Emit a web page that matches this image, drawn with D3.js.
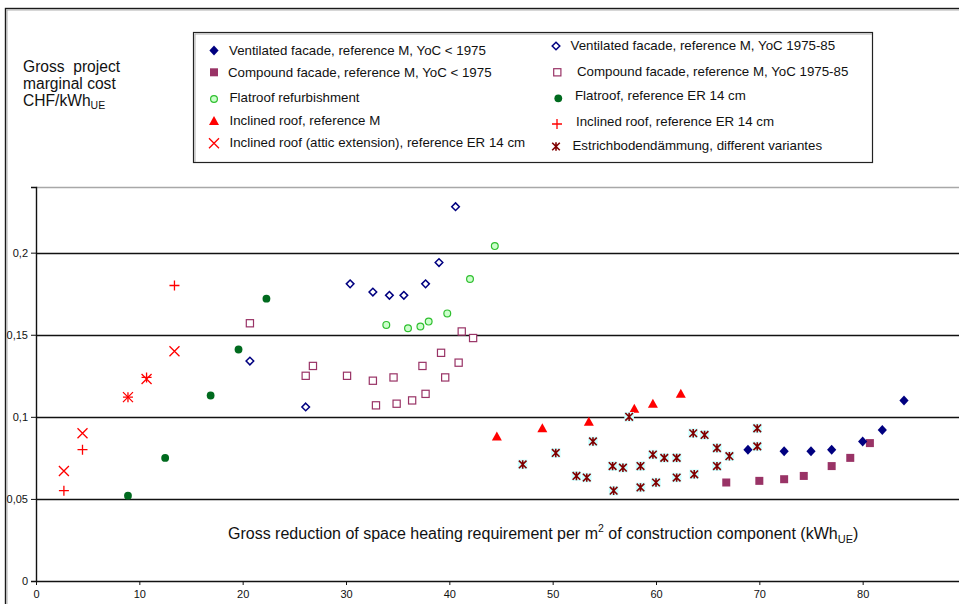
<!DOCTYPE html>
<html>
<head>
<meta charset="utf-8">
<script src="https://cdn.jsdelivr.net/npm/d3@7"></script>
<style>
  html, body { margin: 0; padding: 0; background: #fff; }
  svg { display: block; font-family: "Liberation Sans", Arial, sans-serif; }
  .pre { white-space: pre; }
</style>
</head>
<body>
<svg id="chart" width="959" height="604"></svg>
<script>
// ---- data: [gross reduction kWh_UE per m², marginal cost CHF/kWh_UE] ----
const ventFacadeOld = [[68.9,0.080],[72.4,0.079],[75.0,0.079],[77.0,0.080],[80.0,0.085],[81.9,0.092],[84.0,0.110]];
const compFacadeOld = [[66.8,0.060],[70.0,0.061],[72.4,0.062],[74.3,0.064],[77.0,0.070],[78.8,0.075],[80.7,0.084]];
const flatroofRefurb = [[33.9,0.156],[36.0,0.154],[37.2,0.155],[38.0,0.158],[39.8,0.163],[42.0,0.184],[44.4,0.204]];
const inclinedRoofM = [[44.6,0.088],[49.0,0.093],[53.5,0.097],[57.9,0.105],[59.7,0.108],[62.4,0.114]];
const inclinedAttic = [[2.7,0.067],[4.5,0.090],[8.9,0.112],[10.7,0.123],[13.4,0.140]];
const ventFacadeNew = [[20.7,0.134],[26.1,0.106],[30.4,0.181],[32.6,0.176],[34.2,0.174],[35.6,0.174],[37.7,0.181],[39.0,0.194],[40.6,0.228]];
const compFacadeNew = [[20.7,0.157],[26.1,0.125],[26.8,0.131],[30.1,0.125],[32.6,0.122],[32.9,0.107],[34.6,0.124],[34.9,0.108],[36.4,0.110],[37.4,0.131],[37.7,0.114],[39.2,0.139],[39.6,0.124],[40.9,0.133],[41.2,0.152],[42.3,0.148]];
const flatroofER = [[8.9,0.052],[12.5,0.075],[16.9,0.113],[19.6,0.141],[22.3,0.172]];
const inclinedER = [[2.7,0.055],[4.5,0.080],[8.9,0.112],[10.7,0.124],[13.4,0.180]];
const estrich = [[47.1,0.071],[50.3,0.078],[52.3,0.064],[53.3,0.063],[53.9,0.085],[55.8,0.070],[55.9,0.055],[56.8,0.069],[57.4,0.100],[58.5,0.070],[58.5,0.057],[59.7,0.077],[60.0,0.060],[60.8,0.075],[62.0,0.075],[62.0,0.063],[63.6,0.090],[63.7,0.065],[64.7,0.089],[65.9,0.081],[65.9,0.070],[67.1,0.076],[69.8,0.093],[69.8,0.082]];

const xTickValues = [0,10,20,30,40,50,60,70,80,90];
const yTickValues = [0,0.05,0.1,0.15,0.2];

const legendLabels = [
  "Ventilated facade, reference M, YoC < 1975",
  "Ventilated facade, reference M, YoC 1975-85",
  "Compound facade, reference M, YoC < 1975",
  "Compound facade, reference M, YoC 1975-85",
  "Flatroof refurbishment",
  "Flatroof, reference ER 14 cm",
  "Inclined roof, reference M",
  "Inclined roof, reference ER 14 cm",
  "Inclined roof (attic extension), reference ER 14 cm",
  "Estrichbodendämmung, different variantes"
];

// ---- marker painters ----
const NAVY = "#000080", PLUM = "#993366", RED = "#ff0000", DKGREEN = "#006a1e", LTGREEN = "#2fbf2f", MAROON = "#800000";

const markers = {
  diamondFilled: (g) => g.append("path").attr("d", "M0,-5L4.6,0L0,5L-4.6,0Z").attr("fill", NAVY),
  diamondOpen:   (g) => g.append("path").attr("d", "M0,-3.8L3.8,0L0,3.8L-3.8,0Z").attr("fill", "#fff").attr("stroke", NAVY).attr("stroke-width", 1.5),
  squareFilled:  (g) => g.append("rect").attr("x", -4).attr("y", -4).attr("width", 8).attr("height", 8).attr("fill", PLUM),
  squareOpen:    (g) => g.append("rect").attr("x", -3.6).attr("y", -3.6).attr("width", 7.2).attr("height", 7.2).attr("fill", "#fff").attr("stroke", PLUM).attr("stroke-width", 1.2),
  circleOpen:    (g) => g.append("circle").attr("r", 3.4).attr("fill", "#ccffcc").attr("stroke", LTGREEN).attr("stroke-width", 1.2),
  circleFilled:  (g) => g.append("circle").attr("r", 3.9).attr("fill", DKGREEN),
  triangle:      (g) => g.append("path").attr("d", "M0,-5L5,4L-5,4Z").attr("fill", RED),
  plus:          (g) => g.append("path").attr("d", "M-5,0H5M0,-5V5").attr("stroke", RED).attr("stroke-width", 1.3).attr("fill", "none"),
  cross:         (g) => g.append("path").attr("d", "M-5,-5L5,5M-5,5L5,-5").attr("stroke", RED).attr("stroke-width", 1.3).attr("fill", "none"),
  star:          (g, bg) => {
    if (bg) g.append("rect").attr("x", -4.8).attr("y", -4.8).attr("width", 9.6).attr("height", 9.6).attr("fill", "#ccffff");
    g.append("path").attr("d", "M-3.8,-3.8L3.8,3.8M-3.8,3.8L3.8,-3.8M0,-4.2V4.2").attr("stroke", MAROON).attr("stroke-width", 1.6).attr("fill", "none");
  }
};

const series = [
  { data: compFacadeNew, marker: "squareOpen" },
  { data: ventFacadeNew, marker: "diamondOpen" },
  { data: flatroofRefurb, marker: "circleOpen" },
  { data: flatroofER, marker: "circleFilled" },
  { data: inclinedRoofM, marker: "triangle" },
  { data: estrich, marker: "star", bg: true },
  { data: compFacadeOld, marker: "squareFilled" },
  { data: ventFacadeOld, marker: "diamondFilled" },
  { data: inclinedAttic, marker: "cross" },
  { data: inclinedER, marker: "plus" }
];

// ---- layout ----
const svg = d3.select("#chart");
const plot = { left: 36, top: 187, bottom: 581, right: 966 };

const x = d3.scaleLinear().domain([0, 90]).range([plot.left, plot.right]);
const y = d3.scaleLinear().domain([0, 0.24]).range([plot.bottom, plot.top]);

// outer chart frame
svg.append("rect").attr("x", 5.5).attr("y", 8.5).attr("width", 1000).attr("height", 700)
  .attr("fill", "none").attr("stroke", "#1a1a1a").attr("stroke-width", 1.4);
svg.append("path").attr("d", "M7,10H1000M7,10V700").attr("stroke", "#9a9a9a").attr("stroke-width", 0.8).attr("fill", "none");

// plot border (top) and gridlines
svg.append("line").attr("x1", plot.left).attr("x2", 959).attr("y1", plot.top + 0.5).attr("y2", plot.top + 0.5)
  .attr("stroke", "#a8a8a8").attr("stroke-width", 1.5);
svg.append("g").selectAll("line").data(yTickValues.filter(d => d > 0)).join("line")
  .attr("x1", plot.left).attr("x2", 959)
  .attr("y1", d => Math.round(y(d)) + 0.5).attr("y2", d => Math.round(y(d)) + 0.5)
  .attr("stroke", "#111").attr("stroke-width", 1.4);

// axes
const yAxis = d3.axisLeft(y).tickValues(yTickValues).tickSize(5).tickPadding(3)
  .tickFormat(d => d === 0 ? "0" : String(+d.toFixed(2)).replace(".", ","));
const gy = svg.append("g").attr("transform", `translate(${plot.left},0)`).call(yAxis);
gy.select(".domain").attr("stroke", "#111").attr("stroke-width", 1.4);
gy.selectAll(".tick line").attr("stroke", "#111");
gy.selectAll(".tick text").attr("font-size", 11).attr("fill", "#111").attr("font-family", "Liberation Sans, Arial, sans-serif");

const xAxis = d3.axisBottom(x).tickValues(xTickValues).tickSize(4).tickSizeOuter(0).tickPadding(5).tickFormat(d3.format("d"));
const gx = svg.append("g").attr("transform", `translate(0,${plot.bottom})`).call(xAxis);
gx.select(".domain").attr("stroke", "#111").attr("stroke-width", 1.4);
gx.selectAll(".tick line").attr("stroke", "#111");
gx.selectAll(".tick text").attr("font-size", 11).attr("fill", "#111").attr("font-family", "Liberation Sans, Arial, sans-serif");

// data markers
series.forEach(s => {
  svg.append("g").selectAll("g").data(s.data).join("g")
    .attr("transform", d => `translate(${x(d[0])},${y(d[1])})`)
    .each(function () { markers[s.marker](d3.select(this), s.bg); });
});

// y-axis title
const yTitle = svg.append("text").attr("font-size", 15.6).attr("fill", "#111").attr("class", "pre");
yTitle.append("tspan").attr("x", 23).attr("y", 72).text("Gross  project");
yTitle.append("tspan").attr("x", 23).attr("y", 89).text("marginal cost");
yTitle.append("tspan").attr("x", 23).attr("y", 106).text("CHF/kWh");
yTitle.append("tspan").attr("font-size", 10.5).attr("dy", 3).text("UE");

// x-axis title
const xTitle = svg.append("text").attr("x", 228).attr("y", 539).attr("font-size", 16).attr("fill", "#111");
xTitle.append("tspan").text("Gross reduction of space heating requirement per m");
xTitle.append("tspan").attr("font-size", 10.5).attr("dy", -7).text("2");
xTitle.append("tspan").attr("dy", 7).text(" of construction component (kWh");
xTitle.append("tspan").attr("font-size", 11).attr("dy", 3.5).text("UE");
xTitle.append("tspan").attr("dy", -3.5).text(")");

// legend
const lg = svg.append("g");
lg.append("rect").attr("x", 193.5).attr("y", 32.5).attr("width", 679).attr("height", 130)
  .attr("fill", "#fff").attr("stroke", "#222").attr("stroke-width", 1.2);
lg.append("path").attr("d", "M195,34H872M195,34V162").attr("stroke", "#9a9a9a").attr("stroke-width", 0.8).attr("fill", "none");

const legendItems = [
  { label: legendLabels[0], marker: "diamondFilled", mx: 214, my: 50.5, tx: 229, ty: 50 },
  { label: legendLabels[2], marker: "squareFilled",  mx: 214, my: 72.3, tx: 228, ty: 72 },
  { label: legendLabels[4], marker: "circleOpen",    mx: 214, my: 99,   tx: 229.5, ty: 97.7 },
  { label: legendLabels[6], marker: "triangle",      mx: 214, my: 121,  tx: 229.5, ty: 120 },
  { label: legendLabels[8], marker: "cross",         mx: 214, my: 143.3, tx: 229.5, ty: 142.7 },
  { label: legendLabels[1], marker: "diamondOpen",   mx: 556, my: 46,   tx: 570.5, ty: 45 },
  { label: legendLabels[3], marker: "squareOpen",    mx: 557.3, my: 72.3, tx: 577, ty: 71.7 },
  { label: legendLabels[5], marker: "circleFilled",  mx: 558.3, my: 98.3, tx: 575, ty: 95 },
  { label: legendLabels[7], marker: "plus",          mx: 557, my: 124,  tx: 576, ty: 121.7 },
  { label: legendLabels[9], marker: "star",          mx: 556, my: 146.5, tx: 572.5, ty: 145 }
];
legendItems.forEach(it => {
  const g = lg.append("g").attr("transform", `translate(${it.mx},${it.my})`);
  markers[it.marker](g, false);
  lg.append("text").attr("x", it.tx).attr("y", it.ty).attr("dy", "0.35em")
    .attr("font-size", 13.3).attr("fill", "#111").text(it.label);
});
</script>
</body>
</html>
